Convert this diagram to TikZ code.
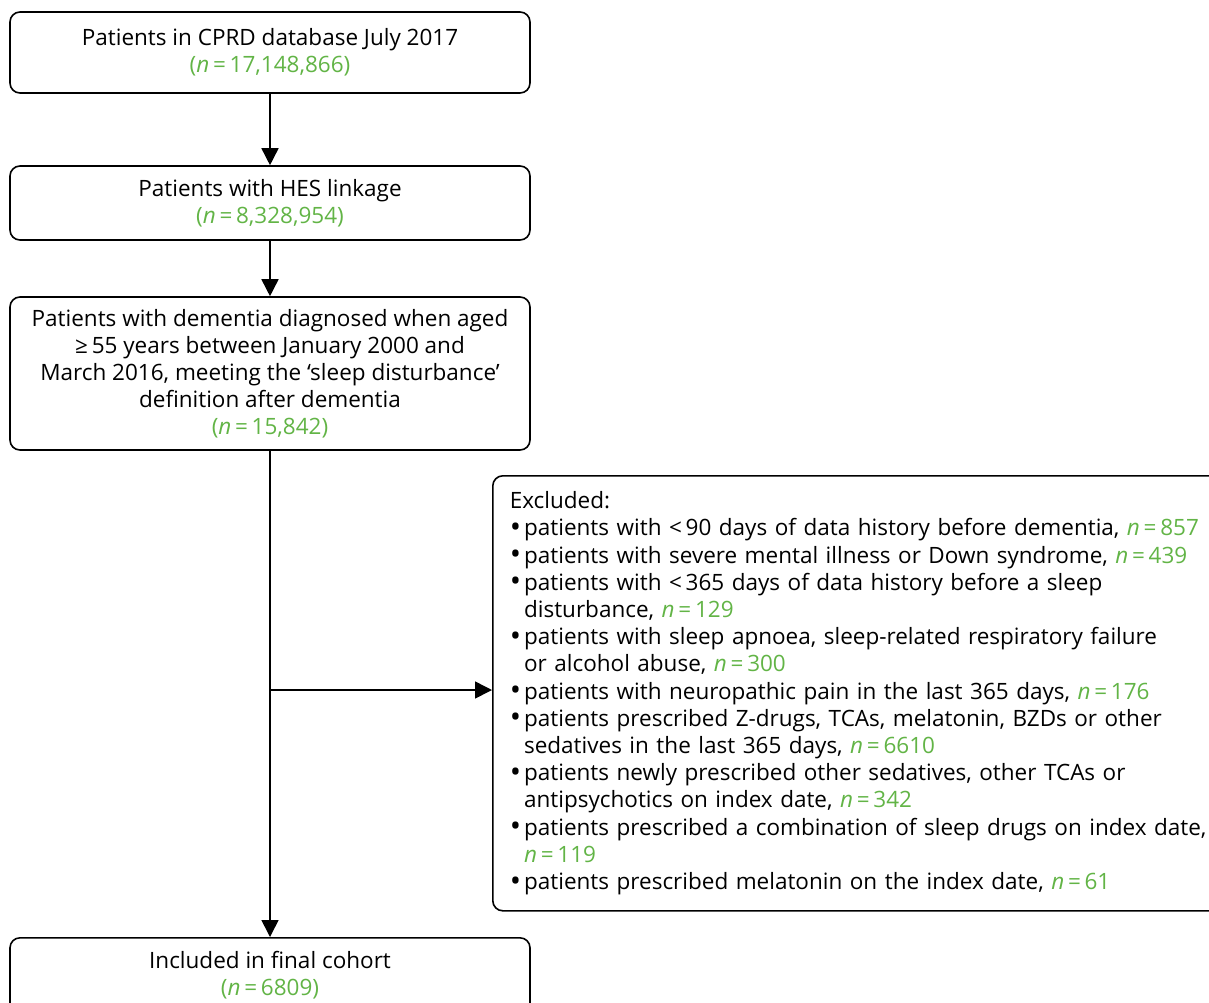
\documentclass[tikz,border=0pt]{standalone}
\usepackage{fontspec}
\setmainfont{Open Sans}
\usetikzlibrary{arrows.meta,calc}
\definecolor{ngreen}{RGB}{98,180,70}
\newcommand{\nn}[1]{\textcolor{ngreen}{\textit{n}\,=\,#1}}
\newcommand{\pn}[1]{\textcolor{ngreen}{(\textit{n}\,=\,#1)}}
\newcommand{\bul}{{\fontsize{30}{27}\selectfont\raisebox{-1.5pt}{•}}\hspace{3pt}}
\newcommand{\ind}{\phantom{\bul}}
\begin{document}
\begin{tikzpicture}[x=1pt,y=-1pt,
  box/.style={draw,line width=1.6pt,rounded corners=10pt,minimum width=520pt,align=center,
    font=\fontsize{22.5}{27}\selectfont,inner sep=0pt},
  conn/.style={line width=1.6pt,-{Triangle[length=17pt,width=17pt]}}]
\useasboundingbox (0,0) rectangle (1209,1002);
\node[box,minimum height=81pt] (b1) at (270,52.5) {Patients in CPRD database July 2017\\ \pn{17,148,866}};
\node[box,minimum height=74pt] (b2) at (270,203) {Patients with HES linkage\\ \pn{8,328,954}};
\node[box,minimum height=153pt] (b3) at (270,373.5) {Patients with dementia diagnosed when aged\\ ≥\,55 years between January 2000 and\\ March 2016, meeting the ‘sleep disturbance’\\ definition after dementia\\ \pn{15,842}};
\node[box,minimum height=80pt,anchor=north] (b4) at (270,937) {\rule{0pt}{31pt}Included in final cohort\\ \pn{6809}\\[30pt]};
\node[draw,line width=1.6pt,rounded corners=10pt,anchor=north west,align=left,text width=710pt,
  minimum height=435pt,inner xsep=17pt,inner ysep=0pt,font=\fontsize{22.5}{27.2}\selectfont] (ex) at (492,475) {%
Excluded:\\
\bul patients with <\,90 days of data history before dementia, \nn{857}\\
\bul patients with severe mental illness or Down syndrome, \nn{439}\\
\bul patients with <\,365 days of data history before a sleep\\
\ind disturbance, \nn{129}\\
\bul patients with sleep apnoea, sleep-related respiratory failure\\
\ind or alcohol abuse, \nn{300}\\
\bul patients with neuropathic pain in the last 365 days, \nn{176}\\
\bul patients prescribed Z-drugs, TCAs, melatonin, BZDs or other\\
\ind sedatives in the last 365 days, \nn{6610}\\
\bul patients newly prescribed other sedatives, other TCAs or\\
\ind antipsychotics on index date, \nn{342}\\
\bul patients prescribed a combination of sleep drugs on index date,\\
\ind \nn{119}\\
\bul patients prescribed melatonin on the index date, \nn{61}};
\coordinate (br) at (269,690);
\draw[conn] (b1.south) -- (b2.north);
\draw[conn] (b2.south) -- (b3.north);
\draw[conn] (b3.south) -- (b4.north);
\draw[conn] (br) -- (br -| ex.west);
\end{tikzpicture}
\end{document}
